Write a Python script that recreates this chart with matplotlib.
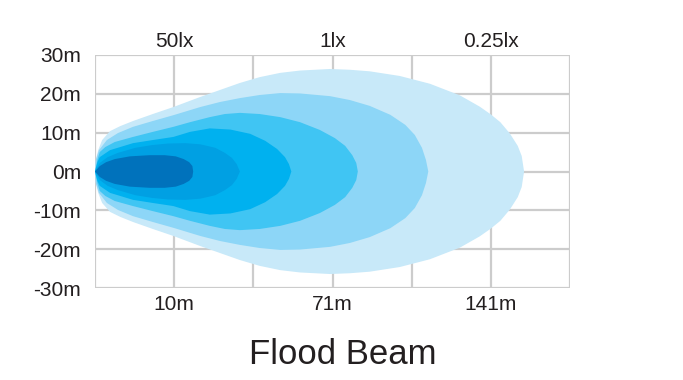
import numpy as np
import matplotlib
matplotlib.use('Agg')
import matplotlib.pyplot as plt

plt.rcParams['font.family'] = ['Liberation Sans', 'DejaVu Sans']

# ── Dane ─────────────────────────────────────────────
# oś x w jednostkach siatki (0..6), oś y w metrach
grid_x = [0, 1, 2, 3, 4, 5, 6]
dist_labels = ['', '10m', '', '71m', '', '141m', '']
lux_labels = ['', '50lx', '', '1lx', '', '0.25lx', '']
y_ticks = [30, 20, 10, 0, -10, -20, -30]
y_labels = ['30m', '20m', '10m', '0m', '-10m', '-20m', '-30m']

# górne obrysy stref (od najjaśniejszej do najciemniejszej), dół = lustro
zone1_x = [0.0, 0.01, 0.04, 0.09, 0.19, 0.32, 0.48, 0.73, 0.99, 1.33, 1.58,
           1.83, 2.08, 2.34, 2.59, 2.97, 3.22, 3.47, 3.85, 4.23, 4.61, 4.86,
           5.00, 5.12, 5.24, 5.34, 5.39, 5.42]
zone1_y = [0.0, 3.0, 5.5, 8.1, 10.4, 11.7, 13.0, 14.8, 16.6, 19.2, 21.0,
           22.8, 24.3, 25.4, 26.0, 26.4, 26.2, 25.8, 24.6, 22.6, 19.6, 16.7,
           14.7, 12.7, 9.8, 6.6, 4.0, 0.0]
zone2_x = [0.0, 0.01, 0.05, 0.15, 0.29, 0.48, 0.73, 0.99, 1.33, 1.58, 1.83,
           2.08, 2.34, 2.59, 2.97, 3.22, 3.47, 3.73, 3.92, 4.04, 4.13, 4.18,
           4.21]
zone2_y = [0.0, 3.0, 5.5, 8.1, 9.9, 11.5, 13.0, 14.5, 16.6, 17.9, 18.9,
           19.7, 20.2, 20.1, 19.4, 18.4, 16.9, 14.6, 12.0, 9.4, 6.1, 3.0, 0.0]
zone3_x = [0.0, 0.03, 0.06, 0.13, 0.25, 0.48, 0.73, 0.99, 1.20, 1.45, 1.64,
           1.83, 2.08, 2.34, 2.59, 2.84, 3.03, 3.16, 3.25, 3.30, 3.32]
zone3_y = [0.0, 3.0, 5.0, 6.3, 7.6, 8.9, 10.2, 11.5, 12.7, 14.0, 14.8,
           15.1, 14.8, 14.0, 12.7, 10.7, 8.6, 6.6, 4.2, 2.2, 0.0]
zone4_x = [0.0, 0.03, 0.06, 0.19, 0.48, 0.73, 0.99, 1.20, 1.45, 1.71, 1.96,
           2.15, 2.30, 2.40, 2.45, 2.48]
zone4_y = [0.0, 2.4, 3.7, 5.5, 7.3, 8.1, 8.9, 10.2, 11.1, 10.8, 9.7,
           7.9, 5.8, 3.7, 1.9, 0.0]
zone5_x = [0.0, 0.06, 0.16, 0.29, 0.51, 0.72, 0.92, 1.14, 1.33, 1.52, 1.64,
           1.73, 1.79, 1.83]
zone5_y = [0.0, 2.2, 3.7, 4.8, 6.1, 6.8, 7.2, 7.3, 7.0, 6.1, 4.8,
           3.5, 1.9, 0.0]
zone6_x = [0.0, 0.06, 0.14, 0.25, 0.44, 0.69, 0.88, 1.02, 1.12, 1.19, 1.23,
           1.24]
zone6_y = [0.0, 1.4, 2.4, 3.2, 3.9, 4.2, 4.2, 3.9, 3.2, 2.4, 1.4, 0.0]

zones = [
    (zone1_x, zone1_y, '#c8e9f9'),
    (zone2_x, zone2_y, '#8dd6f7'),
    (zone3_x, zone3_y, '#40c5f3'),
    (zone4_x, zone4_y, '#00b1ef'),
    (zone5_x, zone5_y, '#00a0e3'),
    (zone6_x, zone6_y, '#0072bc'),
]

TEXT = '#231f20'
GRID = '#cccccc'

# ── Wykres ───────────────────────────────────────────
fig = plt.figure(figsize=(6.83, 3.80), dpi=100)
ax = fig.add_axes([95 / 683, 92 / 380, 475 / 683, 233 / 380])

for i, (zx, zy, col) in enumerate(zones):
    zx = np.asarray(zx)
    zy = np.asarray(zy)
    px = np.concatenate([zx, zx[::-1]])
    py = np.concatenate([zy, -zy[::-1]])
    ax.fill(px, py, color=col, lw=0, zorder=2 + i)

ax.set_xlim(0, 6)
ax.set_ylim(-30, 30)
ax.set_xticks(grid_x)
ax.set_xticklabels(dist_labels)
ax.set_yticks(y_ticks)
ax.set_yticklabels(y_labels)
ax.tick_params(length=0, labelsize=15, colors=TEXT)
ax.tick_params(axis='x', pad=5)
ax.tick_params(axis='y', pad=10)
ax.grid(True, color=GRID, lw=1.6)
ax.set_axisbelow(True)
for s in ax.spines.values():
    s.set_visible(False)

top = ax.secondary_xaxis('top')
top.set_xticks(grid_x)
top.set_xticklabels(lux_labels)
top.tick_params(length=0, labelsize=15, colors=TEXT, pad=3)
for s in top.spines.values():
    s.set_visible(False)

fig.text(343 / 683, 1 - 355 / 380, 'Flood Beam', ha='center', va='center',
         fontsize=25, color=TEXT)

fig.savefig('out.png', dpi=100)
